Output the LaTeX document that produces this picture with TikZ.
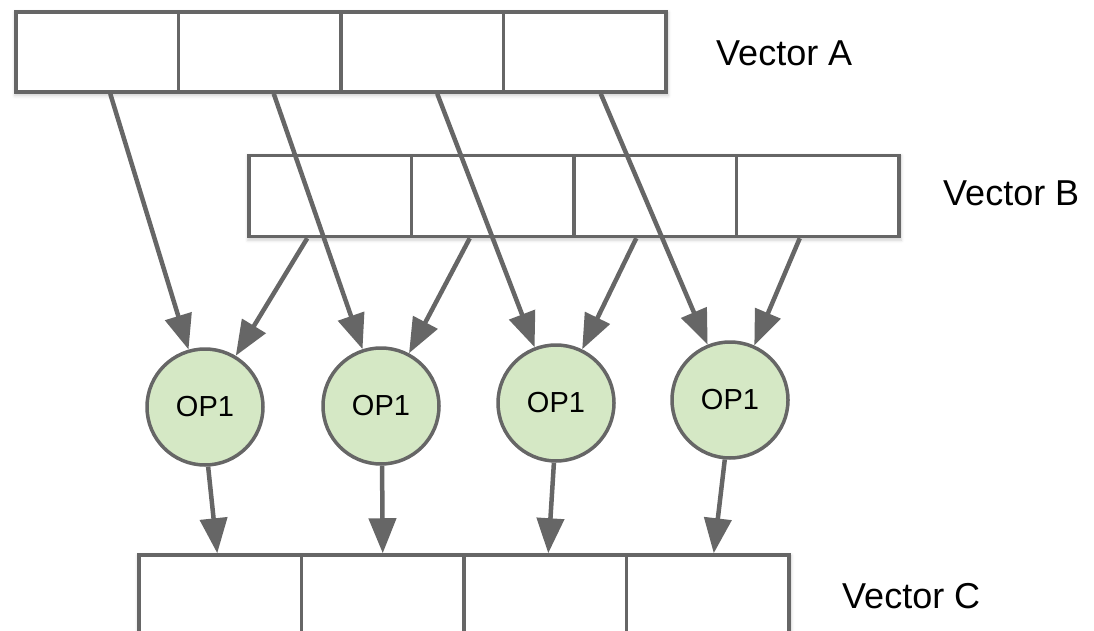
\documentclass[tikz,border=0pt]{standalone}
\usepackage{fontspec}
\setmainfont{Liberation Sans}
\usetikzlibrary{arrows.meta,shadows.blur,backgrounds}
\definecolor{edgegray}{HTML}{666666}
\definecolor{opfill}{HTML}{D5E8C5}
\begin{document}
\begin{tikzpicture}[x=1pt,y=-1pt,
  cell/.style={draw=edgegray, line width=3.5pt, fill=white,
    minimum width=162.5pt, minimum height=80pt, inner sep=0pt},
  op/.style={circle, draw=edgegray, line width=3.5pt, fill=opfill,
    minimum size=116pt, inner sep=0pt, font=\fontsize{29}{32}\selectfont},
  flow/.style={draw=edgegray, line width=4.5pt,
    -{Triangle[length=35pt,width=27pt]}},
  vlabel/.style={anchor=base west, inner sep=0pt,
    font=\fontsize{36}{40}\selectfont},
  softshadow/.style={fill=white, blur shadow={shadow xshift=0.5pt,
    shadow yshift=-2pt, shadow blur radius=3pt, shadow opacity=18}}]
  \clip (0,0) rectangle (1094,631);

  % Vector A
  \foreach \i/\x in {1/97.25,2/259.75,3/422.25,4/584.75}
    \node[cell] (a\i) at (\x,52) {};
  % Vector B
  \foreach \i/\x in {1/330.25,2/492.75,3/655.25,4/817.75}
    \node[cell, minimum height=81pt] (b\i) at (\x,196) {};
  % Vector C (runs past the lower edge)
  \foreach \i/\x in {1/220.25,2/382.75,3/545.25,4/707.75}
    \node[cell, minimum height=110pt] (cc\i) at (\x,610) {};

  % soft shadows under the three vectors
  \begin{scope}[on background layer]
    \path[softshadow] (a1.north west) rectangle (a4.south east);
    \path[softshadow] (b1.north west) rectangle (b4.south east);
    \path[softshadow] (cc1.north west) rectangle (cc4.south east);
  \end{scope}

  % operation nodes
  \node[op] (c1) at (205,407) {OP1};
  \node[op] (c2) at (381,406) {OP1};
  \node[op] (c3) at (556,403) {OP1};
  \node[op] (c4) at (730,400) {OP1};

  % labels
  \node[vlabel] (la) at (716,66) {Vector A};
  \node[vlabel] (lb) at (943,205) {Vector B};
  \node[vlabel] (lc) at (842,608) {Vector C};

  % inputs from A
  \draw[flow] ([xshift=13pt]a1.south) -- (c1.106);
  \draw[flow] ([xshift=14pt]a2.south) -- (c2.108);
  \draw[flow] ([xshift=15pt]a3.south) -- (c3.111);
  \draw[flow] ([xshift=16pt]a4.south) -- (c4.112);
  % inputs from B
  \draw[flow] ([xshift=-23pt]b1.south) -- (c1.59);
  \draw[flow] ([xshift=-23pt]b2.south) -- (c2.62);
  \draw[flow] ([xshift=-19pt]b3.south) -- (c3.64);
  \draw[flow] ([xshift=-18pt]b4.south) -- (c4.66);
  % results into C
  \draw[flow] (c1.-87) -- ([xshift=-3pt]cc1.north);
  \draw[flow] (c2.-89) -- ([xshift=0pt]cc2.north);
  \draw[flow] (c3.-92) -- ([xshift=3pt]cc3.north);
  \draw[flow] (c4.-95) -- ([xshift=6pt]cc4.north);
\end{tikzpicture}
\end{document}
